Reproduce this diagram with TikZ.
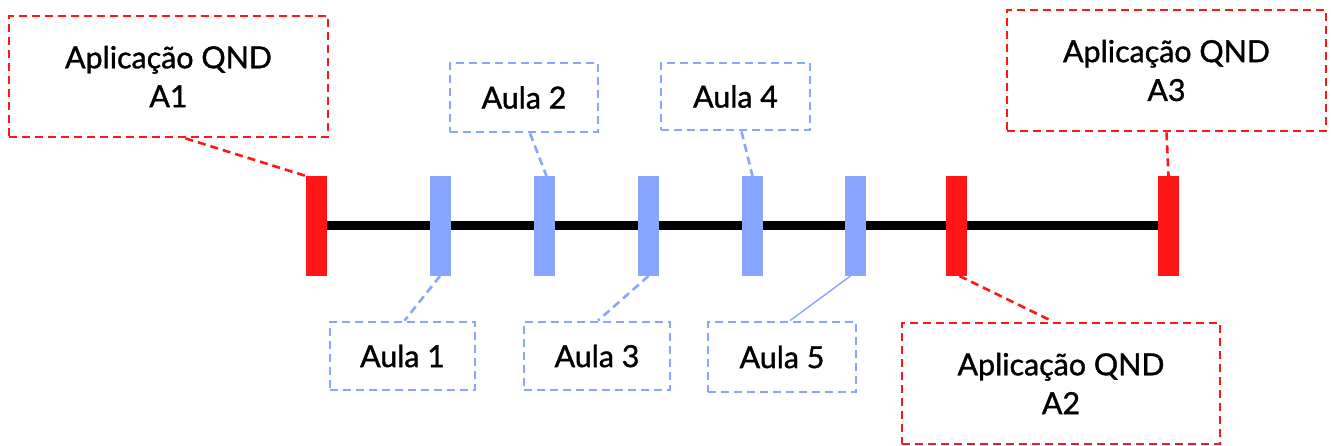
\documentclass[tikz,border=0pt]{standalone}
\usepackage{fontspec}
\setmainfont{Lato}[BoldFont={Lato},BoldFeatures={FakeBold=1.2}]
\definecolor{qred}{HTML}{FF1717}
\definecolor{qblue}{HTML}{88A6FF}
\begin{document}
\begin{tikzpicture}[x=1bp,y=-1bp,
  lbl/.style={align=center,font=\fontsize{30.5}{39}\selectfont\bfseries,inner sep=0},
  redbox/.style={lbl,draw=qred,line width=2.8bp,dash pattern=on 8bp off 5bp,minimum width=319bp,minimum height=121bp},
  bluebox/.style={lbl,draw=qblue,line width=2.8bp,dash pattern=on 8bp off 5bp,minimum width=146bp,minimum height=68bp},
  redbar/.style={fill=qred,minimum width=21bp,minimum height=100bp,inner sep=0,outer sep=0},
  bluebar/.style={fill=qblue,minimum width=21bp,minimum height=100bp,inner sep=0,outer sep=0},
  redlink/.style={draw=qred,line width=2.6bp,dash pattern=on 8bp off 5bp},
  bluelink/.style={draw=qblue,line width=2.6bp,dash pattern=on 8bp off 5bp},
  solidlink/.style={draw=qblue,line width=1.4bp}]
\useasboundingbox (0,0) rectangle (1331,446);
% boxes
\node[redbox] (a1) at (168.5,76.5) {Aplicação QND\\A1};
\node[redbox] (a3) at (1166.5,70.5) {Aplicação QND\\A3};
\node[redbox,minimum width=318bp] (a2) at (1061,383.5) {Aplicação QND\\A2};
\node[bluebox,minimum width=148bp,minimum height=69bp] (aula2) at (524,97.5) {Aula 2};
\node[bluebox,minimum width=149bp,minimum height=67bp] (aula4) at (735.5,96.5) {Aula 4};
\node[bluebox,minimum width=145bp] (aula1) at (402.5,356) {Aula 1};
\node[bluebox] (aula3) at (597,356) {Aula 3};
\node[bluebox,minimum width=148bp,minimum height=70bp] (aula5) at (782,357) {Aula 5};
% timeline anchors
\coordinate (lstart) at (316.5,226);
\coordinate (lend) at (1168.5,226);
\draw[line width=9bp] (lstart) -- (lend);
% bars
\node[redbar] (b1) at (316.5,226) {};
\node[bluebar] (b2) at (440,226) {};
\node[bluebar] (b3) at (544.5,226) {};
\node[bluebar] (b4) at (648.5,226) {};
\node[bluebar] (b5) at (752.5,226) {};
\node[bluebar] (b6) at (855.5,226) {};
\node[redbar] (b7) at (956.5,226) {};
\node[redbar] (b8) at (1168.5,226) {};
% connectors
\draw[redlink] ([xshift=17bp]a1.south) -- (b1.north west);
\draw[redlink] (a3.south) -- (b8.north);
\draw[redlink] ([xshift=3bp]b7.south) -- ([xshift=-8bp]a2.north);
\draw[bluelink] ([xshift=6bp]aula2.south) -- ([xshift=2bp]b3.north);
\draw[bluelink] ([xshift=6bp]aula4.south) -- (b5.north);
\draw[bluelink] (b2.south) -- ([xshift=2bp]aula1.north);
\draw[bluelink] (b4.south) -- ([xshift=1bp]aula3.north);
\draw[solidlink] ([xshift=-5bp]b6.south) -- ([xshift=8bp]aula5.north);
\end{tikzpicture}
\end{document}
